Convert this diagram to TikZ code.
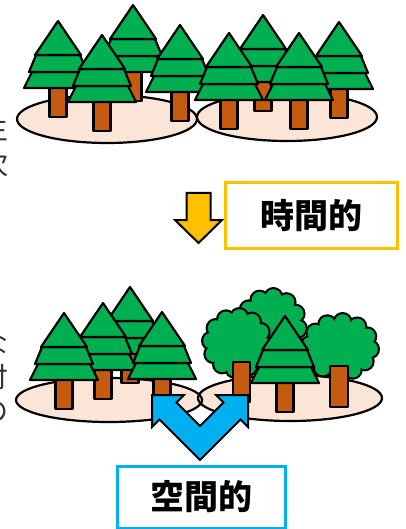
\documentclass[tikz,border=0pt]{standalone}
\usepackage{fontspec}
\newfontfamily\jpfont{Noto Sans CJK JP}
\definecolor{leaf}{HTML}{00B050}
\definecolor{bark}{HTML}{C55A11}
\definecolor{soil}{HTML}{FBE5D6}
\definecolor{amber}{HTML}{FFC000}
\definecolor{sky}{HTML}{00B0F0}

\tikzset{
  outline/.style={draw=black, line width=2.2pt, line join=round},
  tier/.style={outline, fill=leaf},
  trunk/.style={outline, fill=bark},
  arrowshape/.style={draw=black, line width=2pt, line join=miter},
  labelbox/.style={fill=white, line width=3pt, minimum width=172pt, minimum height=66pt,
    inner sep=0pt, font=\jpfont\bfseries\fontsize{34}{34}\selectfont, text=black},
  sidetext/.style={inner sep=0pt, font=\jpfont\fontsize{28}{28}\selectfont, text=black!80}
}

% conifer: three green tiers on a brown trunk, placed by its apex
\newcommand\conifer[2]{%
  \begin{scope}[shift={(#1,#2)}]
    \path[trunk] (-8.5,60) rectangle (8.5,96);
    \path[tier] (-26,51) -- (26,51) -- (34,67) -- (-34,67) -- cycle;
    \path[tier] (-22,34) -- (22,34) -- (29,51) -- (-29,51) -- cycle;
    \path[tier] (0,0) -- (23,34) -- (-23,34) -- cycle;
  \end{scope}}

% broadleaf crown: a bumpy outline built from a black and a green layer
\newcommand\canopy[4]{%
  \pgfmathsetmacro\crx{#3-9}\pgfmathsetmacro\cry{#4-9}
  \foreach \a in {5,35,...,335}
    \fill[black] ({#1+\crx*cos(\a)},{#2+\cry*sin(\a)}) circle [radius=10.1];
  \foreach \a in {5,35,...,335}
    \fill[leaf] ({#1+\crx*cos(\a)},{#2+\cry*sin(\a)}) circle [radius=7.9];
  \fill[leaf] (#1,#2) ellipse [x radius=\crx, y radius=\cry];}

\begin{document}
\begin{tikzpicture}[x=1pt, y=-1pt]
\useasboundingbox (0,0) rectangle (406,529);
\fill[white] (0,0) rectangle (406,529);

% text column running off the left edge
\node[sidetext] (ea) at (-5,128) {生};
\node[sidetext] (eb) at (-5,164) {次};
\node[sidetext] (ec) at (-5,344) {な};
\node[sidetext] (ed) at (-5,377) {付};
\node[sidetext] (ee) at (-5,412) {の};

% ---------- upper stand ----------
\fill[soil] (107,119) ellipse [x radius=90, y radius=24];
\fill[soil] (287,117) ellipse [x radius=90, y radius=24];
\draw[line width=2.2pt] (107,119) ellipse [x radius=90, y radius=24];
\draw[line width=2.2pt] (287,117) ellipse [x radius=90, y radius=24];

\conifer{133}{5}
\conifer{58}{21}
\conifer{180}{25}
\conifer{102}{35}

\conifer{263}{15}
\conifer{339}{22}
\conifer{229}{33}
\conifer{299}{33}

% time arrow and its label
\draw[arrowshape, fill=amber] (186.5,193) -- (210.5,193) -- (210.5,220) -- (222,220)
  -- (198.5,243) -- (175,220) -- (186.5,220) -- cycle;
\node[labelbox, draw=amber] (timebox) at (311,215.5) {時間的};

% ---------- lower stand ----------
\fill[soil] (109,400) ellipse [x radius=93, y radius=22];
\fill[soil] (290,398) ellipse [x radius=92, y radius=23];
\draw[line width=2.2pt] (109,400) ellipse [x radius=93, y radius=22];
\draw[line width=2.2pt] (290,398) ellipse [x radius=92, y radius=23];

\conifer{130}{287}
\conifer{103}{303}
\conifer{64}{313}
\conifer{162}{312}

\canopy{271}{326}{36}{38}
\canopy{237}{343}{35}{35}
\path[trunk] (233,362) rectangle (250,402);
\canopy{340}{347}{39}{34}
\path[trunk] (330,366) rectangle (348,407);
\conifer{285}{316}

% space arrow and its label
\draw[arrowshape, fill=sky] (152,395) -- (184,395) -- (176.5,402.5) -- (200,426)
  -- (223.5,402.5) -- (216,395) -- (248,395) -- (248,427) -- (240.5,419.5)
  -- (200,460) -- (159.5,419.5) -- (152,427) -- cycle;
\node[labelbox, draw=sky, minimum width=168pt, minimum height=62pt] (spacebox) at (201,497) {空間的};
\end{tikzpicture}
\end{document}
